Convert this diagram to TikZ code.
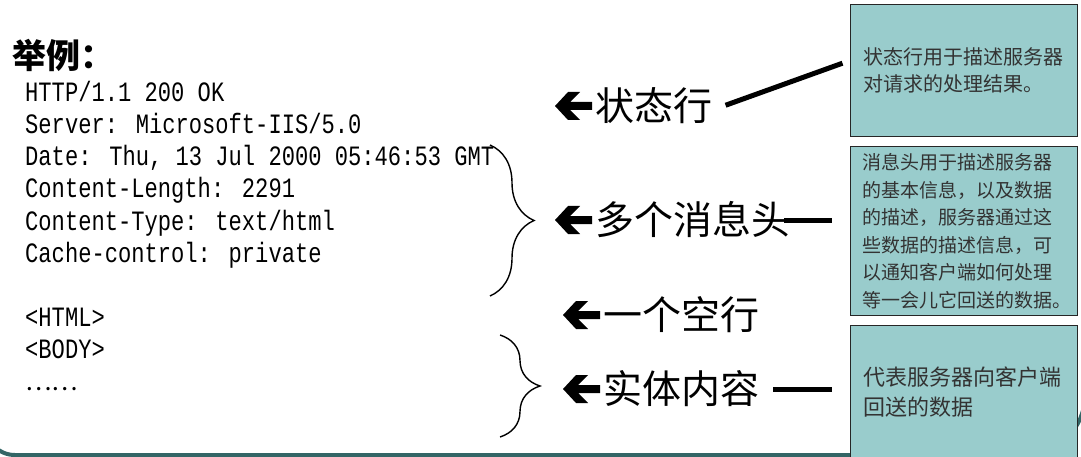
\documentclass[tikz,border=0pt]{standalone}
\usepackage{fontspec}
\newfontfamily\cjk{Noto Sans CJK SC}
\newfontfamily\codefont[FakeStretch=0.79]{Liberation Mono}
\usetikzlibrary{decorations.pathreplacing,calc}
\definecolor{boxfill}{RGB}{153,204,204}
\definecolor{slideline}{RGB}{51,102,102}

\begin{document}
\begin{tikzpicture}[x=1pt,y=-1pt,
  codeline/.style={anchor=base west,inner sep=0,font=\codefont\fontsize{28}{32}\selectfont},
  tag/.style={anchor=west,inner sep=0,font=\cjk\fontsize{39}{44}\selectfont},
  note/.style={draw=black!85,line width=1pt,fill=boxfill,anchor=north west,inner xsep=13pt,inner ysep=0pt,text width=201pt,align=left,text=black!80,font=\cjk\fontsize{20}{27.5}\selectfont},
  link/.style={line width=5pt},
  curly/.style={decorate,decoration={brace,amplitude=#1},line width=1.4pt},
  backarrow/.pic={\fill (0,0) -- (13,-14) -- (25,-14) -- (15,-4) -- (37,-4) -- (37,4) -- (15,4) -- (25,14) -- (13,14) -- cycle;}]
\useasboundingbox (0,0) rectangle (1081,457);
% slide frame
\draw[slideline,line width=4pt,rounded corners=30pt] (-15,-60) -- (-15,455) -- (500,455);
\draw[slideline,line width=4pt,rounded corners=60pt] (500,455) -- (1085,455) -- (1085,-60);

\node[anchor=west,inner sep=0,font=\cjk\bfseries\fontsize{34}{40}\selectfont] (title) at (12,55) {举例：};

% response text
\node[codeline] (l1) at (25,102) {HTTP/1.1 200 OK};
\node[codeline] (l2) at (25,134) {Server: Microsoft-IIS/5.0};
\node[codeline] (l3) at (25,166) {Date: Thu, 13 Jul 2000 05:46:53 GMT};
\node[codeline] (l4) at (25,198) {Content-Length: 2291};
\node[codeline] (l5) at (25,230) {Content-Type: text/html};
\node[codeline] (l6) at (25,262) {Cache-control: private};
\node[codeline] (l7) at (25,326) {<HTML>};
\node[codeline] (l8) at (25,358) {<BODY>};
\node[codeline] (l9) at (25,390) {\cjk\fontsize{25}{32}\selectfont ……};

\draw[curly=44pt] (490,145) -- (490,296);
\draw[curly=40pt] (500,335) -- (500,437);

% part names
\node[tag] (status) at (595,106) {状态行};
\node[tag] (headers) at (595,220) {多个消息头};
\node[tag] (blank) at (603,315) {一个空行};
\node[tag] (body) at (603,389) {实体内容};
\foreach \n in {status,headers,blank,body}
  \pic at ([xshift=-40pt]\n.west) {backarrow};

% notes
\node[note,minimum height=132pt] (box1) at (850,4) {状态行用于描述服务器\\对请求的处理结果。};
\node[note,minimum height=169pt,inner xsep=12pt,text width=203pt,font=\cjk\fontsize{19}{27.5}\selectfont] (box2) at (850,146) {消息头用于描述服务器\\的基本信息，以及数据\\的描述，服务器通过这\\些数据的描述信息，可\\以通知客户端如何处理\\等一会儿它回送的数据。};
\node[note,minimum height=134pt,font=\cjk\fontsize{22}{30}\selectfont] (box3) at (850,325) {代表服务器向客户端\\回送的数据};

\draw[link,shorten <=14pt,shorten >=8pt] ([yshift=-4pt]status.east) -- ([yshift=10pt]box1.west);
\draw[link,shorten <=-6pt,shorten >=18pt] (headers.east) -- (headers.east -| box2.west);
\draw[link,shorten <=14pt,shorten >=18pt] (body.east) -- (body.east -| box3.west);
\end{tikzpicture}
\end{document}
